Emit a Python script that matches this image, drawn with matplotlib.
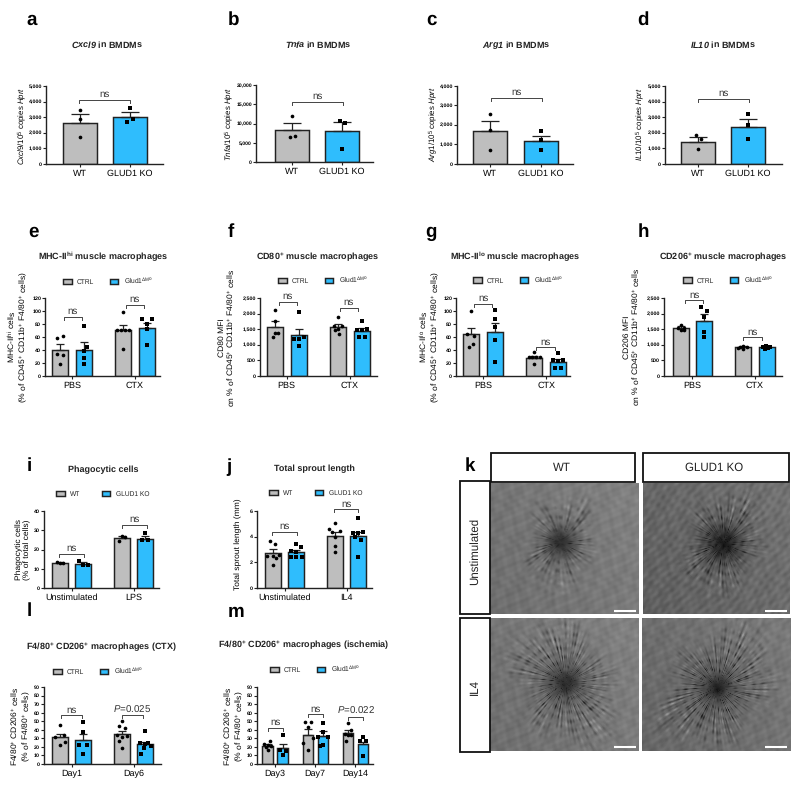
import numpy as np
import matplotlib
matplotlib.use("Agg")
import matplotlib.pyplot as plt
from matplotlib.patches import Rectangle

plt.rcParams.update({
    "font.family": ["Liberation Sans", "DejaVu Sans"],
    "mathtext.fontset": "custom",
    "mathtext.rm": "Liberation Sans",
    "mathtext.it": "Liberation Sans:italic",
    "mathtext.bf": "Liberation Sans:bold",
    "mathtext.bfit": "Liberation Sans:italic:bold",
    "mathtext.default": "regular",
    "text.color": "#222222",
    "text.hinting": "no_hinting",
})

# ---------------- data ----------------
groups_ab = ["WT", "GLUD1 KO"]
groups_pc = ["PBS", "CTX"]
legend_ctrl = ["CTRL", r"Glud1$^{\Delta Mo}$"]
legend_wt = ["WT", "GLUD1 KO"]

a_means = [2650, 3010]
a_sem = [550, 320]
a_pts = [[3440, 2860, 1690], [3610, 2860, 2690]]
b_means = [8280, 8020]
b_sem = [1890, 2500]
b_pts = [[11900, 6550, 6720], [10780, 10260, 3530]]
c_means = [1660, 1145]
c_sem = [560, 305]
c_pts = [[2560, 1740, 700], [1660, 1210, 680]]
d_means = [1410, 2370]
d_sem = [320, 510]
d_pts = [[1840, 1560, 940], [3200, 2480, 1560]]

e_means = [40, 40, 70.5, 74.6]
e_sem = [9.5, 11.6, 8.1, 7.4]
e_pts = [[58, 61, 34, 32, 19], [76.6, 44, 39, 27, 19],
         [99, 71, 71, 71, 71, 42], [87, 87, 80, 73, 47]]
f_means = [1575, 1320, 1575, 1447]
f_sem = [180, 200, 105, 106]
f_pts = [[2105, 1755, 1394, 1383, 1234], [2053, 1266, 1200, 1180, 947],
         [1894, 1596, 1596, 1520, 1468, 1361], [1766, 1489, 1521, 1468, 1255, 1255]]
g_means = [64, 67.4, 28, 21]
g_sem = [10.6, 14.6, 2.6, 4.5]
g_pts = [[100, 65, 62, 50, 45], [101, 87, 75.6, 55, 22],
         [37, 28.6, 28.6, 28.6, 28.6, 18], [36, 24.5, 24.5, 23.5, 11.7, 11.7]]
h_means = [1543, 1777, 925, 925]
h_sem = [74, 213, 43, 43]
h_pts = [[1638, 1553, 1553, 1489, 1468], [2223, 2085, 1894, 1415, 1255],
         [925, 968, 925, 872, 900], [936, 957, 936, 851, 894]]

i_groups = ["Unstimulated", "LPS"]
i_means = [12.9, 12.6, 25.9, 25.7]
i_sem = [0.5, 0.7, 1.1, 1.5]
i_pts = [[13.3, 13.1, 13.1], [13.8, 12.2, 12.2], [27.2, 26.4, 24.3], [28.4, 24.7, 24.7]]

j_groups = ["Unstimulated", "IL4"]
j_means = [2.74, 2.79, 4.09, 4.03]
j_sem = [0.29, 0.18, 0.31, 0.37]
j_pts = [[3.67, 3.41, 2.5, 2.59, 2.46, 2.33, 1.81], [3.41, 3.18, 2.9, 2.77, 2.4, 2.4, 2.4],
         [5.09, 4.63, 4.4, 4.47, 4.0, 3.28, 2.79], [5.43, 4.32, 4.37, 4.27, 4.0, 3.75, 2.4]]

l_groups = ["Day1", "Day6"]
l_means = [31.3, 28.2, 34.8, 22.8]
l_sem = [4.2, 6.8, 3.8, 3.1]
l_pts = [[46, 34, 32, 25.5, 22.4], [49.4, 37, 22.4, 22.4, 12],
         [49.8, 44.4, 42.5, 34, 32, 33, 26.3, 18.5], [38.6, 25, 25, 23.6, 21, 18.5, 12]]

m_groups = ["Day3", "Day7", "Day14"]
m_means = [20.5, 18.5, 34.4, 32.4, 36.3, 23.2]
m_sem = [3.1, 4.7, 6.2, 5.8, 3.1, 2.7]
m_pts = [[26.3, 23.6, 22.4, 20.5, 19.7, 15.8], [34, 16.6, 14.7, 10.8],
         [48.7, 48.7, 42.9, 25, 30, 15.8], [47.9, 37.5, 32, 32, 22.4, 21],
         [47.9, 39.8, 35, 34, 34, 27.4], [32, 27.4, 27.4, 8.9]]

# ---------------- horizontal scatter of the dots (pixels) ----------------
a_jit = [[0, 0, 0], [0, 3, -3]]
b_jit = [[0, -2.5, 2.5], [-2, 3, 0]]
c_jit = [[0, 0, 0], [0, 0, 0]]
d_jit = [[-2.5, 2.5, 0], [0, 0, 0]]
e_jit = [[-3, 2.5, -3, 2.5, 0], [0, 2.5, 0, 0, 0], [0, -6, -2, 2, 6, 0], [-5, 5, 0, 0, 0]]
f_jit = [[0, 0, 3, 0, -2], [0, 5, -5, 0, 0], [0, -4, 4, 0, -3, 1], [0, -5, 5, 0, -3, 3]]
g_jit = [[0, -4, 3, 2, -2], [0, 0, 0, 0, 0], [0, -5, -2, 2, 6, 0], [0, -5, 5, 0, -3, 3]]
h_jit = [[0, -3, 3.5, 0, 3], [-3, 2.5, 0, 0, 0], [-3, 0, 3.5, 0, -5], [-3, 0, 3.5, -1, 2]]
i_jit = [[-3, 0, 3], [-4, 0, 5], [0, 3, -3], [0, -3, 3]]
j_jit = [[-3, 2, -6, 6, 0, 3, 0], [0, 5, -5, 0, -5, 0, 6], [0, -6, -3, 5, 0, 0, 0], [0, -5, 5, 0, -3, 3, 0]]
l_jit = [[0, 4, -5, 5, 0], [0, 0, -4, 4, 0], [0, -3, 3, -5, 0, 5, -3, 0], [0, -5, 3, 0, 6, -1, -4]]
m_jit = [[2, -4, 0, 3, -2, 0], [0, -3, 3, 0], [-3, 3, 0, -5, 5, 0], [0, 0, -5, 5, 0, -3],
         [0, 3, -3, 0, 3, -2], [0, -3, 3, 0]]

# ---------------- layout ----------------
W, H = 800, 786
fig = plt.figure(figsize=(W / 100, H / 100), dpi=100)
OV = fig.add_axes([0, 0, 1, 1], zorder=5)
OV.set_xlim(0, W)
OV.set_ylim(H, 0)
OV.axis("off")
INK = "#222222"
GRAY = "#BEBEBE"
BLUE = "#2FBDFD"


def panel(box, c0, step, dodge, width, means, sem, pts, jit, labels, ymax, ticks,
          title, title_xy, ylabel, ylabel_xy, brackets, legend=None, legend_xy=None,
          legend_sp=2.3, cap=3.2, ylab_fs=6.1, ytick_fs=3.9):
    L, R, T, B = box
    ax = fig.add_axes([L / W, 1 - B / H, (R - L) / W, (B - T) / H])
    ax.set_xlim((L - c0) / step, (R - c0) / step)
    ax.set_ylim(0, ymax)
    px = lambda v: (v - c0) / step
    n = len(means)
    if dodge:
        xs = [i // 2 + (-1 if i % 2 == 0 else 1) * dodge / step for i in range(n)]
    else:
        xs = list(range(n))
    handles = []
    for i in range(n):
        col = GRAY if i % 2 == 0 else BLUE
        mk = "o" if i % 2 == 0 else "s"
        b = ax.bar(xs[i], means[i], width / step, color=col, edgecolor=INK, linewidth=1.05, zorder=2)
        ax.errorbar(xs[i], means[i], yerr=[[0], [sem[i]]], color=INK, lw=0.9, capsize=cap,
                    capthick=0.9, zorder=3)
        ax.scatter(np.array(jit[i]) / step + xs[i], pts[i], s=7, marker=mk, color="black",
                   linewidths=0, zorder=4, clip_on=False)
        if i < 2:
            handles.append(b)
    ax.set_xticks(range(len(labels)))
    ax.set_xticklabels(labels, fontsize=6.5)
    ax.set_yticks(ticks)
    ax.set_yticklabels([f"{t:,}" for t in ticks], fontsize=ytick_fs, fontweight="bold")
    ax.tick_params(axis="y", length=2.2, width=0.8, pad=0.6, color=INK)
    ax.tick_params(axis="x", length=2.2, width=0.8, pad=1.8, color=INK)
    for s in ("top", "right"):
        ax.spines[s].set_visible(False)
    for s in ("left", "bottom"):
        ax.spines[s].set_linewidth(1.0)
        ax.spines[s].set_color(INK)
    ax.set_title(title, x=(title_xy[0] - L) / (R - L), y=(B - title_xy[1]) / (B - T),
                 va="center", fontsize=6.5, fontweight="bold")
    ax.set_ylabel(ylabel, fontsize=ylab_fs, linespacing=1.05, ha="center", va="center")
    ax.yaxis.set_label_coords(ylabel_xy[0], ylabel_xy[1], transform=OV.transData)
    drop = 3 * ymax / (B - T)
    for x0, x1, yb, txt in brackets:
        ax.plot([px(x0), px(x0), px(x1), px(x1)], [yb - drop, yb, yb, yb - drop], color="#444444",
                lw=0.7, clip_on=False, zorder=5)
        ax.annotate(txt, (px((x0 + x1) / 2), yb), xytext=(0, 0.6), textcoords="offset points",
                    ha="center", va="bottom", fontsize=7.0, annotation_clip=False, color="#333333")
    if legend:
        fx = (legend_xy[0] - L) / (R - L)
        fy = (B - legend_xy[1]) / (B - T)
        ax.legend(handles, legend, loc="center left", bbox_to_anchor=(fx, fy), ncol=2,
                  frameon=False, fontsize=4.8, handlelength=1.3, handleheight=0.9,
                  handletextpad=0.8, columnspacing=legend_sp, borderpad=0, borderaxespad=0)
    return ax


TK5 = [0, 1000, 2000, 3000, 4000, 5000]
TK25 = [0, 500, 1000, 1500, 2000, 2500]
TK120 = [0, 20, 40, 60, 80, 100, 120]
TK90 = list(range(0, 100, 10))
YL = r"% of CD45$^{+}$ CD11b$^{+}$ F4/80$^{+}$ cells"

panel((46, 163, 86, 163.7), 80, 50, 0, 34, a_means, a_sem, a_pts, a_jit, groups_ab, 5000, TK5,
      r"$\mathbfit{Cxcl9}$ in BMDMs", (107, 53), r"$\mathit{Cxcl9/10^{5}}$ copies $\mathit{Hprt}$", (22, 126),
      [(79, 130, 4120, "ns")], cap=6.5, ylab_fs=5.7)
panel((256, 373, 85, 162.3), 292, 50, 0, 34, b_means, b_sem, b_pts, b_jit, groups_ab, 20000,
      [0, 5000, 10000, 15000, 20000],
      r"$\mathbfit{Tnfa}$ in BMDMs", (318, 53), r"$\mathit{Tnfa/10^{5}}$ copies $\mathit{Hprt}$", (229, 124),
      [(292, 343, 15700, "ns")], cap=6.5, ylab_fs=5.7, ytick_fs=3.7)
panel((457, 573, 86, 163.7), 490, 50.5, 0, 34, c_means, c_sem, c_pts, c_jit, groups_ab, 4000,
      [0, 1000, 2000, 3000, 4000],
      r"$\mathbfit{Arg1}$ in BMDMs", (516, 54), r"$\mathit{Arg1/10^{5}}$ copies $\mathit{Hprt}$", (433, 124),
      [(491, 542, 3370, "ns")], cap=6.5, ylab_fs=5.7)
panel((665, 782, 86, 163.7), 698, 50, 0, 34, d_means, d_sem, d_pts, d_jit, groups_ab, 5000, TK5,
      r"$\mathbfit{IL10}$ in BMDMs", (723, 53), r"$\mathit{IL10/10^{5}}$ copies $\mathit{Hprt}$", (640, 124),
      [(698, 749, 4190, "ns")], cap=6.5, ylab_fs=5.7)

panel((45, 160, 298, 376), 72, 63, 12, 16, e_means, e_sem, e_pts, e_jit, groups_pc, 120, TK120,
      r"MHC-II$^{\mathbf{hi}}$ muscle macrophages", (103, 264),
      "MHC-II$^{hi}$ cells\n(" + YL + ")", (18, 337),
      [(63.5, 82, 91, "ns"), (126, 143.5, 108.8, "ns")], legend_ctrl, (63, 281))
panel((260, 377, 298, 376), 286.75, 63, 11.75, 16, f_means, f_sem, f_pts, f_jit, groups_pc, 2500, TK25,
      r"CD80$^{\mathbf{+}}$ muscle macrophages", (318, 265),
      "CD80 MFI\non " + YL, (227, 337.5),
      [(278.5, 296.5, 2362, "ns"), (339.5, 357.5, 2170, "ns")], legend_ctrl, (278, 280))
panel((456, 570, 298, 376), 483, 63.25, 12, 16, g_means, g_sem, g_pts, g_jit, groups_pc, 120, TK120,
      r"MHC-II$^{\mathbf{lo}}$ muscle macrophages", (515, 264),
      "MHC-II$^{lo}$ cells\n(" + YL + ")", (430, 337),
      [(474, 492.3, 111, "ns"), (536, 555.3, 44, "ns")], legend_ctrl, (473, 279.5))
panel((664, 782, 298, 376), 692.25, 62.5, 11.75, 16, h_means, h_sem, h_pts, h_jit, groups_pc, 2500, TK25,
      r"CD206$^{\mathbf{+}}$ muscle macrophages", (723, 265),
      "CD206 MFI\non " + YL, (632, 337),
      [(685, 703.3, 2425, "ns"), (743.3, 762, 1234, "ns")], legend_ctrl, (683, 279.5))

panel((44, 159, 511, 588), 71.5, 62, 11.5, 16, i_means, i_sem, i_pts, i_jit, i_groups, 40, [0, 10, 20, 30, 40],
      "Phagocytic cells", (103, 478), "Phagocytic cells\n(% of total cells)", (23, 550),
      [(59, 84.3, 17.9, "ns"), (121.7, 146.7, 32.8, "ns")], legend_wt, (56, 494), legend_sp=3.2)
panel((257, 372, 511, 588), 284.5, 62, 11.5, 16, j_means, j_sem, j_pts, j_jit, j_groups, 6, [0, 2, 4, 6],
      "Total sprout length", (314, 477), "Total sprout length (mm)", (238, 544),
      [(272, 297, 4.34, "ns"), (334, 358.3, 6.13, "ns")], legend_wt, (269, 493), legend_sp=3.2)
panel((44, 161, 687, 764), 71.5, 62, 11.5, 16, l_means, l_sem, l_pts, l_jit, l_groups, 90, TK90,
      r"F4/80$^{\mathbf{+}}$ CD206$^{\mathbf{+}}$ macrophages (CTX)", (101, 655),
      "F4/80$^{+}$ CD206$^{+}$ cells\n(% of F4/80$^{+}$ cells)", (21, 726),
      [(61, 81.7, 56.8, "ns"), (122.3, 142.7, 56.8, r"$\mathit{P}$=0.025")], legend_ctrl, (53, 671))
panel((257, 373, 687, 764), 275, 40.25, 7.5, 10.5, m_means, m_sem, m_pts, m_jit, m_groups, 90, TK90,
      r"F4/80$^{\mathbf{+}}$ CD206$^{\mathbf{+}}$ macrophages (ischemia)", (304, 653),
      "F4/80$^{+}$ CD206$^{+}$ cells\n(% of F4/80$^{+}$ cells)", (234, 726),
      [(267.7, 282.7, 42, "ns"), (308.3, 323.3, 58, "ns"), (348.3, 363.3, 54.8, r"$\mathit{P}$=0.022")],
      legend_ctrl, (270, 669), cap=2.6)

# ---------------- panel letters ----------------
for s, x, y in [("a", 32, 20), ("b", 233, 20), ("c", 431, 20), ("d", 643, 20),
                ("e", 33, 232), ("f", 231, 232), ("g", 431, 232), ("h", 643, 232),
                ("i", 29, 466), ("j", 229, 467), ("k", 470, 466),
                ("l", 29, 611), ("m", 236, 612)]:
    OV.text(x, y, s, fontsize=13.5, fontweight="bold", ha="center", va="center", color="black")


# ---------------- micrograph panels (illustrative deterministic texture) ----------------
def photo(box, rel_c, core, reach, base, k, streak):
    x0, x1, y0, y1 = box
    w, h = int(x1 - x0), int(y1 - y0)
    yy, xx = np.mgrid[0:h, 0:w].astype(float)
    dx, dy = xx - rel_c[0], yy - rel_c[1]
    r = np.hypot(dx, dy) + 1e-6
    th = np.arctan2(dy, dx)
    mott = (np.sin(xx * 0.33 + 1.7 * np.sin(yy * 0.16)) * np.sin(yy * 0.29 + 1.3 * np.sin(xx * 0.13))
            + 0.5 * np.sin(xx * 0.71 + yy * 0.47) * np.cos(yy * 0.63 - xx * 0.27))
    diag = streak * np.sin((xx + yy * 0.8) * 0.75 + 2 * np.sin((xx - yy) * 0.05))
    sweep = 0.05 * (xx / w - 0.5) - 0.03 * (yy / h - 0.5)
    sp = (np.sin(k * th + 2.5 * np.sin(3 * th + k) + 1.6 * np.sin(11 * th))
          + 0.7 * np.sin((k * 2 + 3) * th + 1.5 * np.sin(5 * th) + 0.08 * r)
          + 0.5 * np.sin(r * 0.75 + 7 * th))
    patch = 0.5 + 0.5 * np.sin(r * 0.37 + 6 * th + 3 * np.sin(2 * th + k)) * np.sin(r * 0.23 - 9 * th)
    sp_dark = np.clip(sp, 0, None) * patch
    sp_bright = np.clip(-sp - 0.4, 0, None) * patch
    reach_th = reach * (1 + 0.22 * np.sin(2 * th + k) + 0.14 * np.sin(5 * th + 1.1 * k))
    halo = np.exp(-(r / reach_th) ** 4) * (1 - 0.8 * np.exp(-(r / (core * 1.3)) ** 2))
    img = (base + 0.028 * mott + diag + sweep
           - 0.10 * np.exp(-(r / (reach * 0.62)) ** 2)
           - 0.20 * np.exp(-(r / core) ** 2)
           - 0.17 * halo * sp_dark
           + 0.16 * halo * sp_bright * (r / reach).clip(0, 1))
    a = fig.add_axes([x0 / W, 1 - y1 / H, (x1 - x0) / W, (y1 - y0) / H], zorder=1)
    a.imshow(img, cmap="gray", vmin=0, vmax=1, aspect="auto", interpolation="bilinear")
    a.axis("off")


photo((490, 638, 483, 614), (70, 59), 13, 36, 0.47, 23, 0.0)
photo((643, 790, 483, 614), (80, 60), 17, 40, 0.41, 29, 0.018)
photo((490, 639, 618, 751), (75, 64), 14, 50, 0.47, 37, 0.0)
photo((642, 791, 618, 751), (75, 69), 12, 50, 0.44, 41, 0.006)

for x0, y0, x1, y1 in [(491, 453, 635, 482), (643, 453, 789, 482), (460, 481, 490, 614), (460, 618, 490, 752)]:
    OV.add_patch(Rectangle((x0, y0), x1 - x0, y1 - y0, fc="white", ec="#111111", lw=1.3))
OV.text(562, 468, "WT", fontsize=8.3, ha="center", va="center")
OV.text(714, 468, "GLUD1 KO", fontsize=8.3, ha="center", va="center")
OV.text(475, 551, "Unstimulated", fontsize=8.3, rotation=90, ha="center", va="center")
OV.text(475, 687, "IL4", fontsize=8.3, rotation=90, ha="center", va="center")
for x0, x1, y in [(614, 636, 611), (765, 787, 611), (614, 636, 747), (765, 787, 747)]:
    OV.plot([x0, x1], [y, y], color="white", lw=1.5, solid_capstyle="butt")

fig.savefig("out.png", dpi=100, facecolor="white")
